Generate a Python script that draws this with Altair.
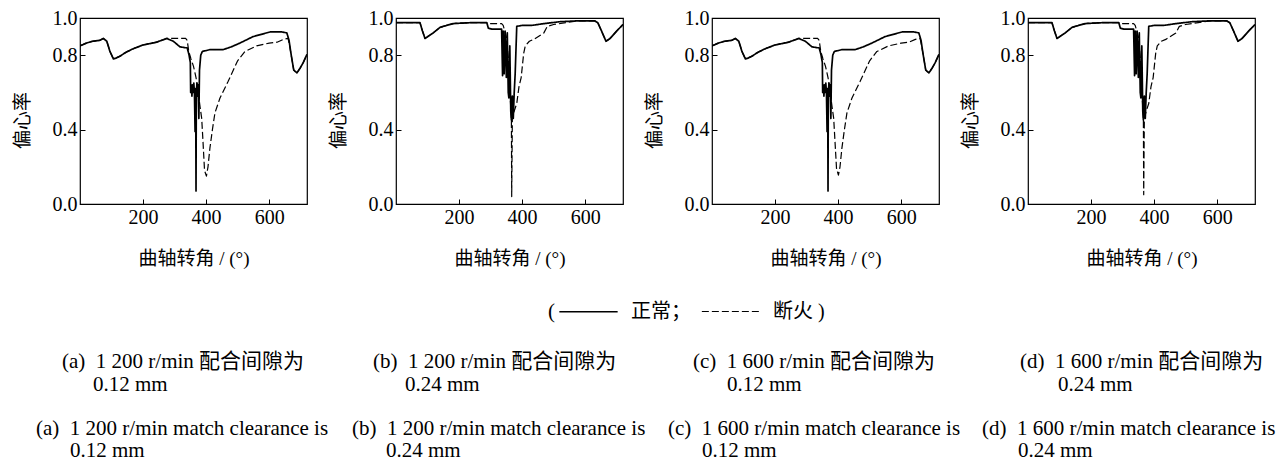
import altair as alt
import pandas as pd

FONT = "Liberation Serif, Noto Sans CJK SC"
STATUS = ["正常", "断火"]

# ---------------- panel (a) 1200 r/min, 0.12 mm ----------------
A_ANG_N = [0, 20, 40, 63, 74, 85, 95, 106, 115, 127, 145, 169, 200, 243, 275, 296, 317, 335, 340, 346,
           350, 351, 353, 355, 357, 359, 361, 363, 365, 366, 367, 368, 369, 371, 373, 375, 377, 379, 383, 388,
           400, 412, 454, 480, 507, 549, 603, 640, 656, 663, 670, 678, 688, 698, 708, 720]
A_VAL_N = [0.85, 0.865, 0.875, 0.88, 0.89, 0.875, 0.82, 0.78, 0.785, 0.795, 0.815, 0.835, 0.855, 0.87, 0.89, 0.875, 0.845, 0.84, 0.84, 0.80,
           0.76, 0.60, 0.64, 0.58, 0.64, 0.60, 0.65, 0.60, 0.39, 0.62, 0.60, 0.07, 0.60, 0.65, 0.58, 0.64, 0.46, 0.72, 0.80, 0.82,
           0.825, 0.83, 0.83, 0.845, 0.865, 0.90, 0.925, 0.925, 0.92, 0.88, 0.80, 0.72, 0.705, 0.73, 0.76, 0.805]
A_ANG_M = [0, 20, 40, 63, 74, 85, 95, 106, 115, 127, 145, 169, 200, 243, 275, 300, 317, 335, 340, 345,
           352, 360, 368, 375, 381, 386, 390, 395, 401, 406, 412, 420, 428, 444, 470, 500, 523, 560, 600, 625,
           645, 660, 665, 670, 678, 688, 698, 708, 720]
A_VAL_M = [0.85, 0.865, 0.875, 0.88, 0.89, 0.875, 0.82, 0.78, 0.785, 0.795, 0.815, 0.835, 0.855, 0.87, 0.89, 0.89, 0.89, 0.89, 0.88, 0.82,
           0.78, 0.74, 0.68, 0.60, 0.52, 0.46, 0.34, 0.18, 0.15, 0.20, 0.30, 0.40, 0.49, 0.57, 0.66, 0.77, 0.82, 0.85, 0.865, 0.87,
           0.885, 0.89, 0.85, 0.80, 0.72, 0.705, 0.73, 0.76, 0.805]

# ---------------- panel (b) 1200 r/min, 0.24 mm ----------------
B_ANG_N = [0, 40, 76, 84, 92, 105, 118, 140, 181, 240, 288, 293, 304, 335, 338, 340, 343, 346, 350, 353,
           356, 358, 361, 364, 366, 369, 372, 375, 378, 383, 400, 430, 470, 520, 580, 630, 640, 652, 666, 679,
           700, 720]
B_VAL_N = [0.975, 0.975, 0.975, 0.93, 0.89, 0.905, 0.92, 0.95, 0.97, 0.975, 0.975, 0.945, 0.94, 0.94, 0.69, 0.93, 0.70, 0.93, 0.68, 0.92,
           0.60, 0.57, 0.85, 0.50, 0.45, 0.58, 0.46, 0.60, 0.70, 0.955, 0.96, 0.96, 0.97, 0.98, 0.985, 0.985, 0.975, 0.93, 0.875, 0.89,
           0.93, 0.965]
B_ANG_M = [0, 40, 76, 84, 92, 105, 118, 140, 181, 240, 288, 300, 335, 340, 350, 358, 363, 366, 367, 369,
           375, 383, 390, 397, 405, 410, 423, 437, 469, 480, 500, 540, 580, 630, 640, 652, 666, 679, 700, 720]
B_VAL_M = [0.975, 0.975, 0.975, 0.93, 0.89, 0.905, 0.92, 0.95, 0.97, 0.975, 0.975, 0.97, 0.97, 0.96, 0.90, 0.75, 0.55, 0.46, 0.04, 0.46,
           0.50, 0.54, 0.63, 0.68, 0.81, 0.85, 0.875, 0.885, 0.92, 0.955, 0.965, 0.975, 0.985, 0.985, 0.975, 0.93, 0.875, 0.89, 0.93, 0.965]

# ---------------- panel (c) 1600 r/min, 0.12 mm ----------------
C_ANG_N = list(A_ANG_N)
C_VAL_N = list(A_VAL_N)
C_ANG_M = list(A_ANG_M)
C_VAL_M = [0.85, 0.865, 0.875, 0.88, 0.89, 0.875, 0.82, 0.78, 0.785, 0.795, 0.815, 0.835, 0.855, 0.87, 0.89, 0.89, 0.89, 0.89, 0.88, 0.82,
           0.78, 0.74, 0.68, 0.60, 0.52, 0.46, 0.34, 0.19, 0.155, 0.20, 0.30, 0.40, 0.49, 0.57, 0.66, 0.77, 0.82, 0.85, 0.865, 0.87,
           0.885, 0.89, 0.85, 0.80, 0.72, 0.705, 0.73, 0.76, 0.805]

# ---------------- panel (d) 1600 r/min, 0.24 mm ----------------
D_ANG_N = list(B_ANG_N)
D_VAL_N = list(B_VAL_N)
D_ANG_M = list(B_ANG_M)
D_VAL_M = [0.975, 0.975, 0.975, 0.93, 0.89, 0.905, 0.92, 0.95, 0.97, 0.975, 0.975, 0.97, 0.97, 0.96, 0.90, 0.75, 0.55, 0.46, 0.05, 0.46,
           0.50, 0.54, 0.63, 0.68, 0.81, 0.85, 0.875, 0.885, 0.92, 0.955, 0.965, 0.975, 0.985, 0.985, 0.975, 0.93, 0.875, 0.89, 0.93, 0.965]

X_TICKS = [200, 400, 600]
Y_TICKS = [0.0, 0.4, 0.8, 1.0]

CAP_ZH = ["(a)\u00a0 1 200 r/min 配合间隙为", "(b)\u00a0 1 200 r/min 配合间隙为",
          "(c)\u00a0 1 600 r/min 配合间隙为", "(d)\u00a0 1 600 r/min 配合间隙为"]
CAP_EN = ["(a)\u00a0 1 200 r/min match clearance is", "(b)\u00a0 1 200 r/min match clearance is",
          "(c)\u00a0 1 600 r/min match clearance is", "(d)\u00a0 1 600 r/min match clearance is"]
CAP_MM = ["0.12 mm", "0.24 mm", "0.12 mm", "0.24 mm"]

# caption placement relative to each panel's plot area (pixels)
ZH_X = [-18, -23, -19, -8]
ZH2_X = [13, 9, 15, 30]
EN_X = [-44, -44, -44, -46]
EN2_X = [-10, -10, -10, -10]
ZH_Y, ZH2_Y, EN_Y, EN2_Y = 344, 367, 411, 433

legend = alt.Legend(
    orient="none", legendX=468, legendY=263, direction="horizontal",
    title="(", titleOrient="left", titleAnchor="middle", titleBaseline="top",
    titleFont=FONT, titleFontSize=21, titleFontWeight="normal", titleColor="black", titlePadding=3,
    symbolType="stroke", symbolSize=3400, symbolStrokeColor="black", symbolStrokeWidth=1.4,
    labelFont=FONT, labelFontSize=20, labelColor="black", labelOffset=12, columnPadding=8,
    labelExpr="datum.label == '正常' ? '正常；' : datum.label + '  )'",
)


def caption(text, x, y):
    return alt.Chart(pd.DataFrame({"t": [text]})).mark_text(
        align="left", baseline="middle", font=FONT, fontSize=21, color="black"
    ).encode(x=alt.value(x), y=alt.value(y), text="t:N")


def panel(i, ang_n, val_n, ang_m, val_m):
    df = pd.concat([
        pd.DataFrame({"angle": ang_n, "value": val_n, "status": STATUS[0]}),
        pd.DataFrame({"angle": ang_m, "value": val_m, "status": STATUS[1]}),
    ], ignore_index=True)
    lines = alt.Chart(df).mark_line(clip=True, strokeJoin="round", color="black").encode(
        x=alt.X("angle:Q", scale=alt.Scale(domain=[0, 720], nice=False),
                axis=alt.Axis(values=X_TICKS, format="d", title="曲轴转角 / (°)", offset=-5, tickSize=5,
                              domain=False, grid=False, labelFlush=False, labelPadding=3,
                              titlePadding=22)),
        y=alt.Y("value:Q", scale=alt.Scale(domain=[0, 1], nice=False),
                axis=alt.Axis(values=Y_TICKS, format=".1f", title="偏心率", offset=-5, tickSize=5,
                              domain=False, grid=False, labelFlush=False, labelPadding=3,
                              titlePadding=20, titleY=102)),
        strokeDash=alt.StrokeDash("status:N", scale=alt.Scale(domain=STATUS, range=[[1, 0], [7, 3]]),
                                  legend=legend),
        strokeWidth=alt.StrokeWidth("status:N", scale=alt.Scale(domain=STATUS, range=[1.7, 1.2]), legend=None),
    )
    return alt.layer(
        lines,
        caption(CAP_ZH[i], ZH_X[i], ZH_Y),
        caption(CAP_MM[i], ZH2_X[i], ZH2_Y),
        caption(CAP_EN[i], EN_X[i], EN_Y),
        caption(CAP_MM[i], EN2_X[i], EN2_Y),
    ).properties(width=227, height=186)


panels = [
    panel(0, A_ANG_N, A_VAL_N, A_ANG_M, A_VAL_M),
    panel(1, B_ANG_N, B_VAL_N, B_ANG_M, B_VAL_M),
    panel(2, C_ANG_N, C_VAL_N, C_ANG_M, C_VAL_M),
    panel(3, D_ANG_N, D_VAL_N, D_ANG_M, D_VAL_M),
]

chart = alt.hconcat(*panels, spacing=89, bounds="flush").resolve_scale(
    strokeDash="shared", strokeWidth="shared"
).resolve_legend(strokeDash="shared").properties(
    padding={"left": 12, "top": 7, "right": 0, "bottom": 0},
    background="white",
).configure_view(stroke="black", strokeWidth=1.2).configure_axis(
    labelFont=FONT, labelFontSize=20, labelColor="black", tickColor="black", tickWidth=1,
    titleFont=FONT, titleFontSize=19, titleFontWeight="normal", titleColor="black",
)

chart.save("out.html", embed_options={"renderer": "svg", "actions": False})
